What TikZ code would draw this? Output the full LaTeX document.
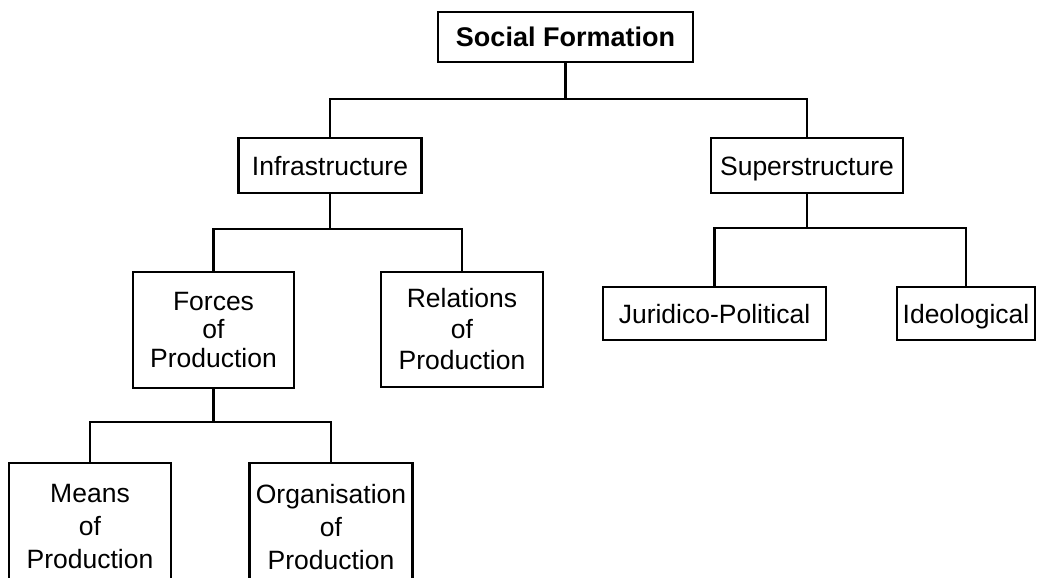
\documentclass[tikz,border=0pt]{standalone}
\usepackage{fontspec}
\setmainfont{Liberation Sans}
\begin{document}
\begin{tikzpicture}[x=1pt,y=-1pt,
  box/.style={draw, line width=2.5pt, inner sep=0pt, align=center, fill=white},
  txt/.style={font=\fontsize{26.5}{#1}\selectfont},
  one/.style={text height=19pt, text depth=0pt},
  conn/.style={line width=2.5pt, line join=miter}]
\useasboundingbox (0,0) rectangle (1037,578);
\clip (0,0) rectangle (1037,578);
% nodes
\node[box, one, font=\fontsize{27}{30}\selectfont\bfseries, minimum width=255pt, minimum height=50pt] (sf) at (565.5,37) {Social Formation};
\node[box, one, txt=30, minimum width=183pt, minimum height=55pt] (inf) at (330,165.5) {Infrastructure};
\node[box, one, txt=30, minimum width=192pt, minimum height=55pt] (sup) at (807,165.5) {Superstructure};
\node[box, txt=28.5, minimum width=161pt, minimum height=116pt] (fop) at (213.5,330) {Forces\\of\\Production};
\node[box, txt=31, minimum width=162pt, minimum height=115pt] (rop) at (462,329.5) {Relations\\of\\Production};
\node[box, one, txt=30, minimum width=223pt, minimum height=53pt] (jp) at (714.5,313.5) {Juridico-Political};
\node[box, one, txt=30, minimum width=138pt, minimum height=53pt] (ideo) at (966,313.5) {Ideological};
\node[box, txt=33, minimum width=162pt, minimum height=128pt] (mop) at (90,527) {Means\\of\\Production};
\node[box, txt=33, minimum width=163pt, minimum height=128pt] (oop) at (331,527) {Organisation\\of\\Production};
% bus coordinates
\coordinate (b1) at (565.5,99);
\coordinate (b2) at (330,229);
\coordinate (b3) at (807,228);
\coordinate (b4) at (213.5,422);
% connectors
\draw[conn] (sf.south) -- (b1);
\draw[conn] (inf.north) |- (b1) -| (sup.north);
\draw[conn] (inf.south) -- (b2);
\draw[conn] (fop.north) |- (b2) -| (rop.north);
\draw[conn] (sup.south) -- (b3);
\draw[conn] (jp.north) |- (b3) -| (ideo.north);
\draw[conn] (fop.south) -- (b4);
\draw[conn] (mop.north) |- (b4) -| (oop.north);
\end{tikzpicture}
\end{document}
